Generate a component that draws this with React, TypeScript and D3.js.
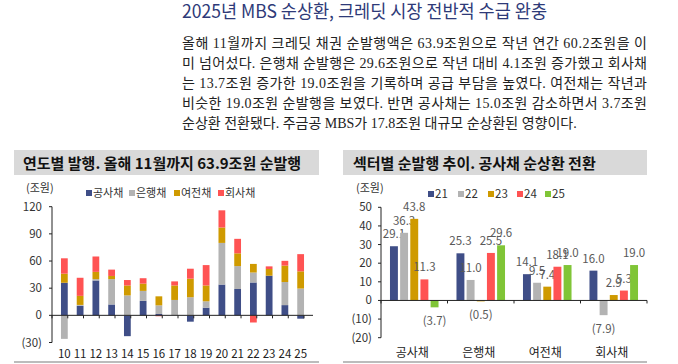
import React from 'react';
import * as d3 from 'd3';

// ---- data ----
const years = ['10', '11', '12', '13', '14', '15', '16', '17', '18', '19', '20', '21', '22', '23', '24', '25'];
const sectors = ['공사채', '은행채', '여전채', '회사채'];
const publicBonds = [36, 10.5, 38.5, 12, -23, 16, 1.5, 0, -7, 8.5, 34, 29.1, 36.3, 43.8, 11.3, -3.7];
const bankBonds = [-26, 1, 1.5, 28, 22, 11, 9.5, 17, 20, 7, 46, 25.3, 11.0, -0.5, 25.5, 29.6];
const cardBonds = [10, 10, 8, 3.5, 11, 8, 10, 16, 20.5, 17.5, 17, 14.1, 9.5, 7.4, 18.1, 19.0];
const corpBonds = [17, 20, 17, 7, 6, 6, -1, 4.5, 11, 22.5, 19, 16.0, -7.9, 2.9, 5.3, 19.0];

const recentYears = ['21', '22', '23', '24', '25'];
const leftTicks = [-30, 0, 30, 60, 90, 120];
const rightTicks = [-20, -10, 0, 10, 20, 30, 40, 50];

const titleText = '2025년 MBS 순상환, 크레딧 시장 전반적 수급 완충';
const bodyLines = [
  '올해 11월까지 크레딧 채권 순발행액은 63.9조원으로 작년 연간 60.2조원을 이',
  '미 넘어섰다. 은행채 순발행은 29.6조원으로 작년 대비 4.1조원 증가했고 회사채',
  '는 13.7조원 증가한 19.0조원을 기록하며 공급 부담을 높였다. 여전채는 작년과',
  '비슷한 19.0조원 순발행을 보였다. 반면 공사채는 15.0조원 감소하면서 3.7조원',
  '순상환 전환됐다. 주금공 MBS가 17.8조원 대규모 순상환된 영향이다.',
];
const leftTitle = '연도별 발행. 올해 11월까지 63.9조원 순발행';
const rightTitle = '섹터별 순발행 추이. 공사채 순상환 전환';

const sectorColors = ['#3F4E87', '#B3B3B3', '#CF9A00', '#FF5353'];
const yearColors = ['#3F4E87', '#B3B3B3', '#CF9A00', '#FF5353', '#80C537'];

const font = '"Noto Sans CJK KR", "Noto Sans", sans-serif';
const fmt = (v: number, dec = 0) => (v < 0 ? `(${Math.abs(v).toFixed(dec)})` : v.toFixed(dec));

const LeftChart = () => {
  const x = d3.scaleBand<string>().domain(years).range([52, 313]).padding(0.57);
  const y = d3.scaleLinear().domain([-30, 120]).range([342.5, 206.7]);
  const table = years.map((yr, i) => ({
    year: yr,
    공사채: publicBonds[i],
    은행채: bankBonds[i],
    여전채: cardBonds[i],
    회사채: corpBonds[i],
  }));
  const series = d3.stack<any>().keys(sectors).offset(d3.stackOffsetDiverging)(table);
  const step = x.step();
  const bounds = d3.range(years.length + 1).map((i) => 52 + i * step);
  const legendX = [86, 129, 174, 218];

  return (
    <g fontFamily={font}>
      <rect x={14} y={150} width={305} height={25} fill="#D9D9D9" />
      <text x={23} y={168.5} fontSize={15} fontWeight={700} fill="#111">{leftTitle}</text>
      <text x={26} y={192} fontSize={11} fill="#333">(조원)</text>
      {sectors.map((s, i) => (
        <g key={s}>
          <rect x={legendX[i]} y={190} width={6} height={6} fill={sectorColors[i]} />
          <text x={legendX[i] + 7} y={197} fontSize={11} fill="#333">{s}</text>
        </g>
      ))}
      {series.map((s, si) => (
        <g key={s.key} fill={sectorColors[si]}>
          {s.map((d, i) => {
            const y0 = y(d[0]);
            const y1 = y(d[1]);
            return (
              <rect key={i} x={x(years[i])} y={Math.min(y0, y1)} width={x.bandwidth()}
                height={Math.abs(y0 - y1)} />
            );
          })}
        </g>
      ))}
      <line x1={52} x2={52} y1={206.7} y2={342.5} stroke="#222" />
      {leftTicks.map((t) => (
        <g key={t}>
          <line x1={49} x2={52} y1={y(t)} y2={y(t)} stroke="#222" />
          <text x={42} y={y(t) + 4} fontSize={11.5} textAnchor="end" fill="#333">{fmt(t)}</text>
        </g>
      ))}
      <line x1={52} x2={313} y1={y(0)} y2={y(0)} stroke="#222" />
      {bounds.map((b, i) => (
        <line key={i} x1={b} x2={b} y1={y(0)} y2={y(0) + 3} stroke="#222" />
      ))}
      {years.map((yr) => (
        <text key={yr} x={(x(yr) as number) + x.bandwidth() / 2} y={358} fontSize={11.5}
          textAnchor="middle" fill="#222">{yr}</text>
      ))}
      <line x1={14} x2={319} y1={362} y2={362} stroke="#A6A6A6" strokeWidth={1.5} />
    </g>
  );
};

const RightChart = () => {
  const x0 = d3.scaleBand<string>().domain(sectors).range([381, 647]).paddingInner(0.27).paddingOuter(0.135);
  const x1 = d3.scaleBand<string>().domain(recentYears).range([0, x0.bandwidth()]).paddingInner(0.22);
  const y = d3.scaleLinear().domain([-20, 50]).range([337.7, 207.3]);
  const bySector = [publicBonds, bankBonds, cardBonds, corpBonds];
  const offset = years.length - recentYears.length;
  const step = x0.step();
  const bounds = d3.range(sectors.length + 1).map((i) => 381 + i * step);
  const legendX = [428, 458, 488, 517, 545];

  return (
    <g fontFamily={font}>
      <rect x={343} y={150} width={304} height={25} fill="#D9D9D9" />
      <text x={353} y={168.5} fontSize={15} fontWeight={700} fill="#111">{rightTitle}</text>
      <text x={356} y={192} fontSize={11} fill="#333">(조원)</text>
      {recentYears.map((yr, i) => (
        <g key={yr}>
          <rect x={legendX[i]} y={191} width={6} height={6} fill={yearColors[i]} />
          <text x={legendX[i] + 7} y={198} fontSize={11.5} fill="#333">{yr}</text>
        </g>
      ))}
      {sectors.map((s, si) => (
        <g key={s}>
          {recentYears.map((yr, yi) => {
            const v = bySector[si][offset + yi];
            const bx = (x0(s) as number) + (x1(yr) as number);
            const cx = bx + x1.bandwidth() / 2;
            return (
              <g key={yr}>
                <rect x={bx} y={Math.min(y(v), y(0))} width={x1.bandwidth()}
                  height={Math.abs(y(v) - y(0))} fill={yearColors[yi]} />
                <text x={cx} y={v < 0 ? y(v) + 18 : y(v) - 8} fontSize={11.5} textAnchor="middle"
                  fill="#595959">{fmt(v, 1)}</text>
              </g>
            );
          })}
        </g>
      ))}
      <line x1={381} x2={381} y1={207.3} y2={337.7} stroke="#222" />
      {rightTicks.map((t) => (
        <g key={t}>
          <line x1={378} x2={381} y1={y(t)} y2={y(t)} stroke="#222" />
          <text x={372} y={y(t) + 4} fontSize={11.5} textAnchor="end" fill="#333">{fmt(t)}</text>
        </g>
      ))}
      <line x1={381} x2={647} y1={y(0)} y2={y(0)} stroke="#222" />
      {bounds.map((b, i) => (
        <line key={i} x1={b} x2={b} y1={y(0)} y2={y(0) + 3} stroke="#222" />
      ))}
      {sectors.map((s) => (
        <text key={s} x={(x0(s) as number) + x0.bandwidth() / 2 - 2} y={357} fontSize={12}
          textAnchor="middle" fill="#222">{s}</text>
      ))}
      <line x1={343} x2={647} y1={362} y2={362} stroke="#A6A6A6" strokeWidth={1.5} />
    </g>
  );
};

const App = () => {
  return (
    <svg width={678} height={364} style={{ position: 'absolute', left: 0, top: 0, background: '#fff' }}>
      <rect width={678} height={364} fill="#fff" />
      <text x={182} y={17.5} fontSize={18} fontFamily={font} fill="#2E3A78" textLength={365}
        lengthAdjust="spacingAndGlyphs">{titleText}</text>
      <g fontFamily={'"Liberation Serif", "Noto Sans CJK KR", serif'} fontSize={14} fill="#222">
        {bodyLines.map((line, i) => (
          <text key={i} x={182} y={47.5 + i * 20}
            {...(i < bodyLines.length - 1 ? { textLength: 465, lengthAdjust: 'spacing' } : {})}>
            {line}
          </text>
        ))}
      </g>
      <LeftChart />
      <RightChart />
    </svg>
  );
};

export default App;
